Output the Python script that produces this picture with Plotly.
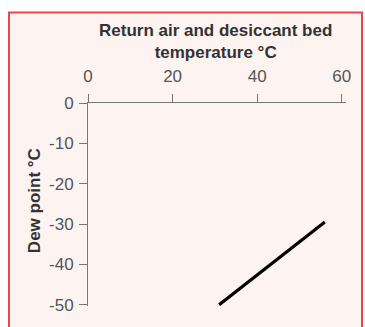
import plotly.graph_objects as go

# data
temp_c = [31, 56]
dew_point_c = [-50, -29.5]
x_ticks = [0, 20, 40, 60]
x_tick_labels = ["0", "20", "40", "60"]
y_ticks = [0, -10, -20, -30, -40, -50]
y_tick_labels = ["0", "-10", "-20", "-30", "-40", "-50"]

W, H = 365, 327
L, R, T, B = 88, 19, 103, 13
pw, ph = W - L - R, H - T - B

def px_x(p):
    return (p - L) / pw

def px_y(p):
    return 1 - (p - T) / ph

fig = go.Figure()
fig.add_trace(go.Scatter(x=temp_c, y=dew_point_c, mode="lines",
                         line=dict(color="black", width=3.2), showlegend=False))

font = "Liberation Sans, Arial, sans-serif"
xl, xr, yt, yb = px_x(9), px_x(362), px_y(9), px_y(360)
fig.update_layout(
    width=W, height=H,
    margin=dict(l=L, r=R, t=T, b=B),
    paper_bgcolor="white", plot_bgcolor="rgba(0,0,0,0)",
    xaxis=dict(range=[0, 61], side="top", tickvals=x_ticks, ticktext=x_tick_labels,
               showgrid=False, zeroline=False, showline=True, linecolor="#777", linewidth=1,
               ticks="outside", ticklen=8, tickcolor="#777", ticklabelstandoff=5,
               tickfont=dict(family=font, size=17, color="#555")),
    yaxis=dict(range=[-50.3, 0], tickvals=y_ticks, ticktext=y_tick_labels,
               showgrid=False, zeroline=False, showline=True, linecolor="#777", linewidth=1,
               ticks="outside", ticklen=8, tickcolor="#777", ticklabelstandoff=2,
               tickfont=dict(family=font, size=17, color="#555")),
    shapes=[
        dict(type="rect", xref="paper", yref="paper", x0=xl, x1=xr, y0=yt, y1=yb,
             fillcolor="#fdf4f2", line=dict(width=0), layer="below"),
        dict(type="path", xref="paper", yref="paper",
             path=f"M {xl} {yb} L {xl} {yt} L {xr} {yt} L {xr} {yb}",
             line=dict(color="#e8474a", width=2), layer="below"),
    ],
    annotations=[
        dict(text="<b>Return air and desiccant bed<br>temperature °C</b>",
             xref="paper", yref="paper", x=px_x(215), y=px_y(39),
             xanchor="center", yanchor="middle", showarrow=False,
             font=dict(family=font, size=17, color="#333"), align="center"),
        dict(text="<b>Dew point °C</b>", textangle=-90,
             xref="paper", yref="paper", x=px_x(34), y=px_y(205),
             xanchor="center", yanchor="middle", showarrow=False,
             font=dict(family=font, size=17, color="#333")),
    ],
)
fig.write_html("out.html", config={"displayModeBar": False},
               post_script="document.body.style.margin='0';document.body.style.overflow='hidden';")
